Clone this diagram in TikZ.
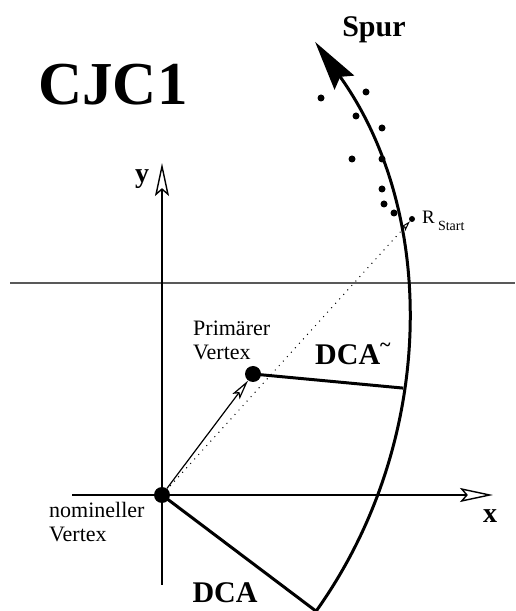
\documentclass[tikz,border=0pt]{standalone}
\usepackage{fontspec}
\setmainfont{Liberation Serif}
\usetikzlibrary{arrows.meta}
\pgfdeclarelayer{edgelayer}
\pgfdeclarelayer{nodelayer}
\pgfsetlayers{edgelayer,nodelayer,main}
\tikzstyle{vertex}=[circle, fill=black, draw=none, minimum size=16pt, inner sep=0pt]
\tikzstyle{hit}=[circle, fill=black, draw=none, minimum size=7pt, inner sep=0pt]
\tikzstyle{startpoint}=[circle, fill=black, draw=none, minimum size=6pt, inner sep=0pt]
\tikzstyle{axis}=[draw=black, line width=1.4pt, -{Stealth[open, length=33pt, width=14pt, inset=6pt]}]
\tikzstyle{track}=[draw=black, line width=3pt, -{Stealth[length=50pt, width=24pt, inset=7pt]}]
\tikzstyle{dca}=[draw=black, line width=3pt]
\tikzstyle{vtxarrow}=[draw=black, line width=1.2pt, -{Stealth[open, length=20pt, width=9pt, inset=4pt]}]
\tikzstyle{guide}=[draw=black, line width=1pt, dash pattern=on 1pt off 5pt, -{Stealth[open, length=10pt, width=6pt, inset=2pt]}]
\tikzstyle{plane}=[draw=black!65, line width=1.2pt]
\tikzstyle{bigtext}=[inner sep=0pt, font=\bfseries\fontsize{30}{30}\selectfont]
\tikzstyle{smalltext}=[inner sep=0pt, align=left, font=\fontsize{22}{24}\selectfont]

\begin{document}
\begin{tikzpicture}[x=1pt, y=1pt]
				\useasboundingbox (0,0) rectangle (515,611);
				\begin{pgfonlayer}{nodelayer}
					\node [style=vertex] (0) at (162, 116) {};
					\node [style=vertex] (1) at (253, 237) {};
					\node [style=startpoint] (2) at (412, 392) {};
					\node [style=hit] (3) at (321, 513) {};
					\node [style=hit] (4) at (366, 519) {};
					\node [style=hit] (5) at (356, 495) {};
					\node [style=hit] (6) at (382, 483) {};
					\node [style=hit] (7) at (352, 452) {};
					\node [style=hit] (8) at (382, 452) {};
					\node [style=hit] (9) at (382, 422) {};
					\node [style=hit] (10) at (384, 407) {};
					\node [style=hit] (11) at (394, 398) {};
					\coordinate (12) at (316.1, -0.2);
					\coordinate (13) at (403.2, 222.9);
					\coordinate (14) at (72, 116);
					\coordinate (15) at (493, 116);
					\coordinate (16) at (162, 26);
					\coordinate (17) at (162, 448);
					\coordinate (18) at (10, 328);
					\coordinate (19) at (515, 328);
					\node [inner sep=0pt, anchor=base, font=\bfseries\fontsize{61}{61}\selectfont] (20) at (113, 506) {CJC1};
					\node [style=bigtext, anchor=base] (21) at (374, 574) {Spur};
					\node [style=bigtext, anchor=base, font=\bfseries\fontsize{28}{28}\selectfont] (22) at (142, 428) {y};
					\node [style=bigtext, anchor=base, font=\bfseries\fontsize{28}{28}\selectfont] (23) at (490, 88) {x};
					\node [style=smalltext, anchor=base west] (24) at (49, 69) {nomineller\\Vertex};
					\node [style=smalltext, anchor=base west] (25) at (193, 251) {Primärer\\Vertex};
					\node [style=bigtext, anchor=base west] (26) at (315, 246) {DCA\raisebox{0.45em}{\fontsize{20}{20}\selectfont\textasciitilde}};
					\node [style=bigtext, anchor=base] (27) at (225, 9) {DCA};
					\node [inner sep=0pt, anchor=base west, font=\fontsize{19}{19}\selectfont] (28) at (422, 387) {R\,\raisebox{-0.32em}{\fontsize{14}{14}\selectfont Start}};
				\end{pgfonlayer}
				\begin{pgfonlayer}{edgelayer}
					\draw [style=plane] (18) to (19);
					\draw [style=axis] (14) to (15);
					\draw [style=axis] (16) to (17);
					\draw [style=guide, shorten <=4pt] (0) to (2);
					\draw [style=vtxarrow] (0) to (1);
					\draw [style=dca] (1.center) to (13);
					\draw [style=dca] (0.center) to (12);
					\draw [style=track] (12) arc [start angle=-35.5, end angle=35.7, radius=489];
				\end{pgfonlayer}
			\end{tikzpicture}
\end{document}
